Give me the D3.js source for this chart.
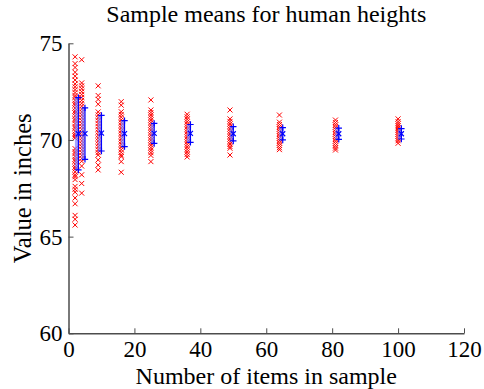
<!DOCTYPE html>
<html><head><meta charset="utf-8">
<script src="https://cdn.jsdelivr.net/npm/d3@7"></script>
<style>
html,body{margin:0;padding:0;background:#fff;}
svg{display:block;font-family:"Liberation Serif","Times New Roman",serif;}
</style></head>
<body><svg id="chart" width="484" height="389"></svg>
<script>
// ---- data ----
const title = "Sample means for human heights";
const xLabel = "Number of items in sample";
const yLabel = "Value in inches";
const xTicks = [0, 20, 40, 60, 80, 100, 120];
const yTicks = [60, 65, 70, 75];
const sampleSizes = [2, 4, 9, 16, 25, 36, 49, 64, 81, 100];

const means2 = [74.3, 73.95, 73.75, 73.5, 73.3, 73.1, 72.9, 72.75, 72.6, 72.45, 72.3, 72.2, 72.05, 71.9, 71.8, 71.65, 71.5, 71.4, 71.25, 71.1, 71.0, 70.85, 70.7, 70.6, 70.45, 70.3, 70.2, 70.1, 69.55, 69.4, 69.3, 69.15, 69.0, 68.9, 68.75, 68.6, 68.5, 68.35, 68.2, 68.1, 67.95, 67.6, 67.45, 67.3, 67.0, 66.7, 66.1, 65.9, 65.6];
const means4 = [74.15, 72.95, 72.8, 72.65, 72.5, 72.35, 72.2, 72.05, 71.9, 71.75, 71.6, 71.45, 71.3, 71.15, 71.0, 70.85, 70.7, 70.55, 70.4, 70.25, 70.1, 69.95, 69.8, 69.65, 69.5, 69.35, 69.2, 69.05, 68.9, 68.65, 68.2, 67.75, 67.25];
const means9 = [72.8, 72.3, 72.1, 71.85, 71.45, 71.3, 71.15, 71.0, 70.85, 70.7, 70.55, 70.4, 70.25, 70.1, 69.95, 69.8, 69.65, 69.5, 69.35, 69.22, 68.97, 68.7, 68.45];
const means16 = [71.98, 71.8, 71.46, 71.32, 71.18, 71.04, 70.9, 70.76, 70.62, 70.48, 70.34, 70.2, 70.06, 69.92, 69.78, 69.64, 69.5, 69.36, 69.22, 69.14, 68.88, 68.33];
const means25 = [72.07, 71.55, 71.42, 71.29, 71.16, 71.03, 70.9, 70.77, 70.64, 70.51, 70.38, 70.25, 70.12, 69.99, 69.86, 69.73, 69.6, 69.47, 69.34, 69.2, 68.88];
const means36 = [71.33, 71.2, 71.07, 70.94, 70.81, 70.68, 70.55, 70.42, 70.29, 70.16, 70.03, 69.9, 69.77, 69.64, 69.51, 69.38, 69.25, 69.12];
const means49 = [71.55, 71.09, 70.96, 70.83, 70.7, 70.57, 70.44, 70.31, 70.18, 70.05, 69.92, 69.79, 69.66, 69.57, 69.22];
const means64 = [71.29, 70.92, 70.8, 70.68, 70.56, 70.44, 70.32, 70.2, 70.08, 69.96, 69.84, 69.72, 69.6, 69.5];
const means81 = [71.03, 70.9, 70.78, 70.66, 70.54, 70.42, 70.3, 70.18, 70.06, 69.94, 69.82, 69.7, 69.58, 69.48];
const means100 = [71.09, 70.95, 70.84, 70.73, 70.62, 70.51, 70.4, 70.29, 70.18, 70.07, 69.96, 69.83];

const barMeans = [70.32, 70.33, 70.35, 70.33, 70.34, 70.34, 70.32, 70.32, 70.32, 70.32];
const barSds   = [1.87, 1.33, 0.92, 0.67, 0.52, 0.46, 0.37, 0.32, 0.29, 0.27];

const sampleMeans = [means2, means4, means9, means16, means25, means36, means49, means64, means81, means100];

// ---- layout ----
const svg = d3.select("#chart");
const plotL = 68.5, plotR = 464, plotT = 43.3, plotB = 333.3;
const x = d3.scaleLinear().domain([0, 120]).range([plotL, plotR]);
const y = d3.scaleLinear().domain([60, 75]).range([plotB, plotT]);

// red sample means
const pts = [];
sampleSizes.forEach((n, i) => sampleMeans[i].forEach(v => pts.push({n, v})));
const xr = 2.5;
svg.append("g").selectAll("path").data(pts).join("path")
  .attr("d", d => {
    const cx = x(d.n), cy = y(d.v);
    return `M${cx-xr},${cy-xr}L${cx+xr},${cy+xr}M${cx-xr},${cy+xr}L${cx+xr},${cy-xr}`;
  })
  .attr("stroke", "#ff0000").attr("stroke-width", 1).attr("fill", "none");

// blue error bars at n+1
const bars = sampleSizes.map((n, i) => ({n: n + 1, m: barMeans[i], s: barSds[i]}));
const bg = svg.append("g");
bg.selectAll("rect").data(bars).join("rect")
  .attr("x", d => x(d.n) - 3.5).attr("width", 3)
  .attr("y", d => y(d.m + d.s)).attr("height", d => y(d.m - d.s) - y(d.m + d.s))
  .attr("fill", "#7f7fff").attr("opacity", 0.7);
bg.selectAll("line.v").data(bars).join("line").attr("class", "v")
  .attr("x1", d => x(d.n)).attr("x2", d => x(d.n))
  .attr("y1", d => y(d.m + d.s)).attr("y2", d => y(d.m - d.s))
  .attr("stroke", "#0000ff").attr("stroke-width", 1.2);
const pr = 3.2;
bg.selectAll("path.p").data(bars.flatMap(d => [{n: d.n, v: d.m + d.s}, {n: d.n, v: d.m - d.s}])).join("path").attr("class", "p")
  .attr("d", d => { const cx = x(d.n), cy = y(d.v); return `M${cx-pr},${cy}L${cx+pr},${cy}M${cx},${cy-pr}L${cx},${cy+pr}`; })
  .attr("stroke", "#0000ff").attr("stroke-width", 1.2).attr("fill", "none");
bg.selectAll("path.c").data(bars).join("path").attr("class", "c")
  .attr("d", d => { const cx = x(d.n), cy = y(d.m); return `M${cx-xr},${cy-xr}L${cx+xr},${cy+xr}M${cx-xr},${cy+xr}L${cx+xr},${cy-xr}`; })
  .attr("stroke", "#0000ff").attr("stroke-width", 1.2).attr("fill", "none");

// axes
const xAxis = d3.axisBottom(x).tickValues(xTicks).tickSizeInner(-5).tickSizeOuter(0).tickPadding(7);
const yAxis = d3.axisLeft(y).tickValues(yTicks).tickSizeInner(-5).tickSizeOuter(0).tickPadding(6);
const gx = svg.append("g").attr("transform", `translate(0,${plotB})`).call(xAxis);
const gy = svg.append("g").attr("transform", `translate(${plotL},0)`).call(yAxis);
[gx, gy].forEach(g => {
  g.select(".domain").attr("stroke", "#4d4d4d").attr("stroke-width", 1.5);
  g.selectAll(".tick line").attr("stroke", "#4d4d4d").attr("stroke-width", 1);
  g.selectAll(".tick text").attr("font-family", "Liberation Serif").attr("font-size", 23).attr("fill", "#000");
});

svg.append("text").attr("x", (plotL + plotR) / 2).attr("y", 22).attr("text-anchor", "middle")
  .attr("font-size", 24).attr("fill", "#000").text(title);
svg.append("text").attr("x", (plotL + plotR) / 2).attr("y", 384).attr("text-anchor", "middle")
  .attr("font-size", 24).attr("fill", "#000").text(xLabel);
svg.append("text").attr("transform", `translate(31,${(plotT + plotB) / 2}) rotate(-90)`).attr("text-anchor", "middle")
  .attr("font-size", 24.5).attr("fill", "#000").text(yLabel);
</script></body></html>
